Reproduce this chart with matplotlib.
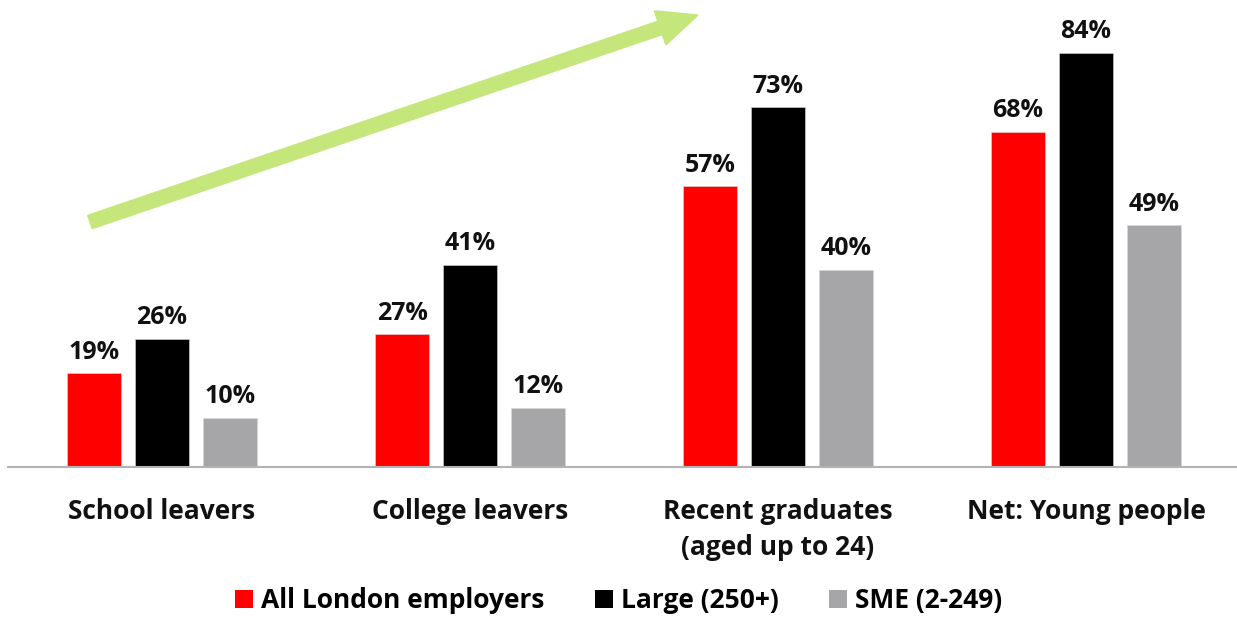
import matplotlib
matplotlib.use("Agg")
import matplotlib.pyplot as plt
import numpy as np
from matplotlib.patches import Patch, FancyArrow

categories = ["School leavers", "College leavers", "Recent graduates\n(aged up to 24)", "Net: Young people"]
series_names = ["All London employers", "Large (250+)", "SME (2-249)"]
all_london = [19, 27, 57, 68]
large = [26, 41, 73, 84]
sme = [10, 12, 40, 49]

colors = ["#ff0000", "#000000", "#a6a6a9"]

plt.rcParams["font.family"] = ["Open Sans", "DejaVu Sans"]
plt.rcParams["font.weight"] = "bold"
FS = 19

fig = plt.figure(figsize=(12.37, 6.22), dpi=100)
ax = fig.add_axes([8 / 1237, 1 - 467 / 622, 1 - 8 / 1237, 467 / 622])

x = np.arange(len(categories))
step = 68 / 308
width = 54 / 308
for i, (vals, col) in enumerate(zip([all_london, large, sme], colors)):
    pos = x + (i - 1) * step
    bars = ax.bar(pos, vals, width=width, color=col, edgecolor="#d9d9d9", linewidth=0.4, zorder=2)
    for b, v in zip(bars, vals):
        ax.annotate(f"{v}%", (b.get_x() + b.get_width() / 2, v), xytext=(0, 6),
                    textcoords="offset points", ha="center", va="bottom",
                    fontsize=18, fontweight="bold", color="#111111")

ax.set_xlim(-0.5, 3.49)
ax.set_ylim(0, 94.7)
ax.set_yticks([])
ax.set_xticks(x)
ax.set_xticklabels(categories, fontsize=FS, fontweight="bold", color="#111111", linespacing=1.45)
ax.tick_params(axis="x", length=0, pad=22)
for s in ["top", "right", "left"]:
    ax.spines[s].set_visible(False)
ax.spines["bottom"].set_color("#b3b3b3")
ax.spines["bottom"].set_linewidth(1.5)

# green trend arrow (inches)
arrow = FancyArrow(0.90, 4.00, 6.08, 2.07, width=0.14, head_width=0.36, head_length=0.40,
                   length_includes_head=True, color="#c4e67b", transform=fig.dpi_scale_trans)
fig.patches.append(arrow)

handles = [Patch(facecolor=c, edgecolor="none") for c in colors]
fig.legend(handles, series_names, loc="lower center", bbox_to_anchor=(0.5, -0.026), ncol=3,
           frameon=False, handlelength=0.7, handleheight=0.7,
           handletextpad=0.3, columnspacing=1.9, prop={"weight": "bold", "size": FS})

fig.savefig("out.png", dpi=100)
